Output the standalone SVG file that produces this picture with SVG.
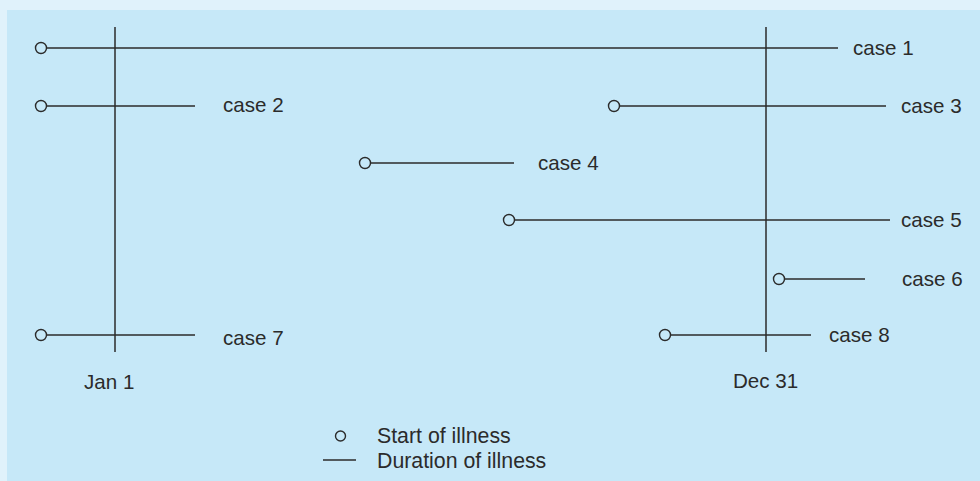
<svg xmlns="http://www.w3.org/2000/svg" width="980" height="481" viewBox="0 0 980 481">
<style>
.ln{stroke:#2b2b2b;stroke-width:1.5;fill:none}
.st{stroke:#2b2b2b;stroke-width:1.4;fill:#c6e8f8}
.t{font-family:"Liberation Sans",Arial,sans-serif;font-size:20.6px;fill:#2b2b2b}
.lg{font-size:21.3px}
</style>
<rect x="0" y="0" width="980" height="481" fill="#e0f2fb"/>
<rect x="7" y="10" width="973" height="471" fill="#c6e8f8"/>
<g id="axes">
<g id="jan1"><line class="ln" x1="115" y1="27" x2="115" y2="352"/><text class="t" x="84" y="389">Jan 1</text></g>
<g id="dec31"><line class="ln" x1="766" y1="27" x2="766" y2="352"/><text class="t" x="733" y="388">Dec 31</text></g>
</g>
<g id="connectors">
<line class="ln" x1="46" y1="48" x2="838" y2="48"/>
<line class="ln" x1="46" y1="106" x2="195" y2="106"/>
<line class="ln" x1="619" y1="106" x2="886" y2="106"/>
<line class="ln" x1="370" y1="163" x2="514" y2="163"/>
<line class="ln" x1="514" y1="220" x2="890" y2="220"/>
<line class="ln" x1="784" y1="279" x2="865" y2="279"/>
<line class="ln" x1="46" y1="335" x2="195" y2="335"/>
<line class="ln" x1="670" y1="335" x2="811" y2="335"/>
</g>
<g id="case1"><circle class="st" cx="41" cy="48" r="5.5"/><text class="t" x="853" y="55">case 1</text></g>
<g id="case2"><circle class="st" cx="41" cy="106" r="5.5"/><text class="t" x="223" y="112">case 2</text></g>
<g id="case3"><circle class="st" cx="614" cy="106" r="5.5"/><text class="t" x="901" y="113">case 3</text></g>
<g id="case4"><circle class="st" cx="365" cy="163" r="5.5"/><text class="t" x="538" y="170">case 4</text></g>
<g id="case5"><circle class="st" cx="509" cy="220" r="5.5"/><text class="t" x="901" y="227">case 5</text></g>
<g id="case6"><circle class="st" cx="779" cy="279" r="5.5"/><text class="t" x="902" y="286">case 6</text></g>
<g id="case7"><circle class="st" cx="41" cy="335" r="5.5"/><text class="t" x="223" y="345">case 7</text></g>
<g id="case8"><circle class="st" cx="665" cy="335" r="5.5"/><text class="t" x="829" y="342">case 8</text></g>
<g id="legend">
<circle class="st" cx="340.5" cy="436" r="5"/>
<line class="ln" x1="323" y1="460" x2="356" y2="460"/>
<text class="t lg" x="377" y="443">Start of illness</text>
<text class="t lg" x="377" y="468">Duration of illness</text>
</g>
</svg>
